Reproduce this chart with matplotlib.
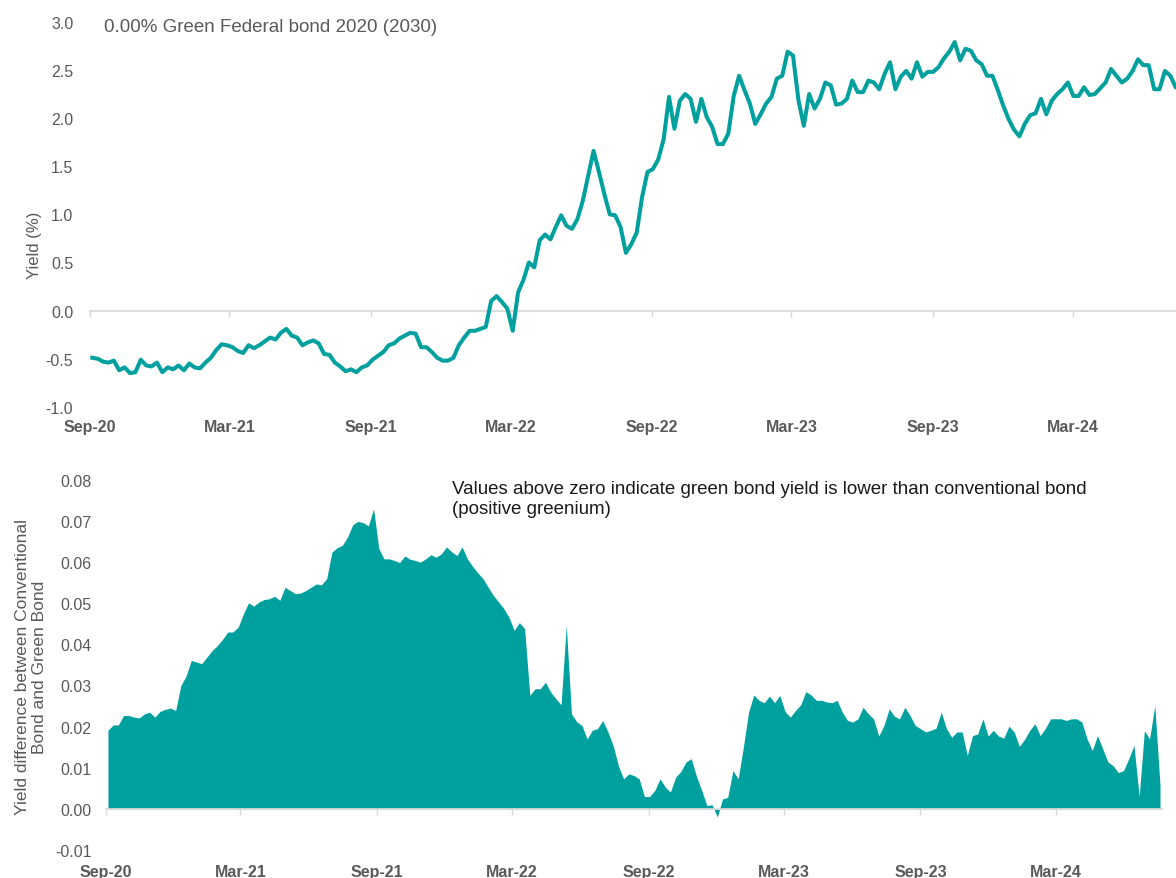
import matplotlib
matplotlib.use("Agg")
import matplotlib.pyplot as plt
import matplotlib.dates as mdates
import matplotlib.ticker as mticker
import numpy as np
import pandas as pd

plt.rcParams["font.family"] = ["Liberation Sans", "DejaVu Sans"]
plt.rcParams["axes.unicode_minus"] = False

TEAL = "#00A09F"
GREY = "#595959"
LIGHT = "#D9D9D9"

# weekly readings, first one on this date
first_week = "2020-09-04"
axis_start = "2020-09-01"
axis_end = "2024-07-22"

# yield of the green Bund, in %
green_yield = [
    -0.49, -0.50, -0.53, -0.54, -0.52, -0.62, -0.59, -0.65, -0.64, -0.51,
    -0.57, -0.58, -0.54, -0.64, -0.59, -0.61, -0.57, -0.62, -0.55, -0.59,
    -0.60, -0.54, -0.49, -0.41, -0.35, -0.36, -0.38, -0.42, -0.44, -0.36,
    -0.39, -0.36, -0.32, -0.28, -0.30, -0.23, -0.19, -0.26, -0.28, -0.36,
    -0.33, -0.31, -0.34, -0.45, -0.46, -0.54, -0.58, -0.63, -0.61, -0.64,
    -0.59,
    -0.57, -0.51, -0.47, -0.43, -0.36, -0.34, -0.29, -0.26, -0.23, -0.24,
    -0.38, -0.38, -0.43, -0.49, -0.52, -0.52, -0.49, -0.36, -0.28, -0.21,
    -0.21, -0.19, -0.17, 0.10, 0.15, 0.09, 0.02, -0.21, 0.19, 0.32,
    0.50, 0.45, 0.73, 0.79, 0.74, 0.87, 0.99, 0.88, 0.85, 0.95,
    1.14, 1.40, 1.66, 1.44, 1.21, 1.00, 0.99, 0.87, 0.60, 0.69,
    0.81,
    1.18, 1.44, 1.47, 1.57, 1.78, 2.22, 1.89, 2.18, 2.25, 2.20,
    1.96, 2.20, 2.01, 1.91, 1.73, 1.73, 1.84, 2.23, 2.44, 2.29,
    2.15, 1.94, 2.04, 2.15, 2.22, 2.41, 2.44, 2.69, 2.65, 2.19,
    1.92, 2.25, 2.10, 2.20, 2.37, 2.34, 2.14, 2.15, 2.20, 2.39,
    2.27, 2.27, 2.39, 2.37, 2.30, 2.46, 2.58, 2.30, 2.43, 2.49,
    2.41, 2.58, 2.43, 2.48, 2.48, 2.53, 2.62, 2.69, 2.79, 2.60,
    2.72, 2.70, 2.60, 2.56, 2.44, 2.44, 2.29, 2.13, 1.99, 1.88,
    1.81, 1.94, 2.03, 2.05, 2.20, 2.04, 2.18, 2.25, 2.30, 2.37,
    2.23, 2.23, 2.32, 2.24, 2.25, 2.31, 2.37, 2.51, 2.44, 2.37,
    2.41, 2.49, 2.61, 2.55, 2.55, 2.30, 2.30, 2.49, 2.44, 2.32,
    2.30,
]

# conventional minus green yield, in basis points
greenium_bp = [
    1.91, 2.04, 2.04, 2.27, 2.27, 2.23, 2.21, 2.31, 2.35, 2.23,
    2.37, 2.42, 2.45, 2.39, 3.00, 3.23, 3.61, 3.57, 3.53, 3.69,
    3.85, 3.97, 4.12, 4.30, 4.30, 4.42, 4.74, 5.01, 4.93, 5.03,
    5.09, 5.11, 5.17, 5.07, 5.39, 5.31, 5.23, 5.25, 5.31, 5.39,
    5.47, 5.45, 5.60, 6.24, 6.35, 6.41, 6.61, 6.91, 6.99, 6.96,
    6.88,
    7.30, 6.33, 6.08, 6.08, 6.04, 5.99, 6.15, 6.07, 6.04, 6.00,
    6.08, 6.18, 6.12, 6.20, 6.37, 6.25, 6.16, 6.37, 6.08, 5.90,
    5.74, 5.60, 5.39, 5.19, 5.03, 4.87, 4.66, 4.34, 4.53, 4.38,
    2.76, 2.92, 2.92, 3.08, 2.84, 2.68, 2.53, 4.46, 2.31, 2.12,
    2.03, 1.70, 1.91, 1.95, 2.15, 1.87, 1.54, 1.05, 0.73, 0.85,
    0.81,
    0.73, 0.30, 0.30, 0.45, 0.73, 0.53, 0.41, 0.77, 0.91, 1.14,
    1.22, 0.79, 0.45, 0.08, 0.10, -0.20, 0.24, 0.28, 0.93, 0.73,
    1.50, 2.35, 2.77, 2.64, 2.58, 2.74, 2.58, 2.76, 2.37, 2.23,
    2.39, 2.53, 2.85, 2.77, 2.64, 2.64, 2.60, 2.58, 2.64, 2.35,
    2.15, 2.11, 2.19, 2.47, 2.31, 2.19, 1.77, 2.03, 2.43, 2.25,
    2.19,
    2.47, 2.27, 2.03, 1.95, 1.87, 1.91, 1.96, 2.35, 1.95, 1.74,
    1.87, 1.87, 1.30, 1.78, 1.82, 2.19, 1.77, 1.91, 1.77, 1.72,
    2.01, 1.87, 1.52, 1.69, 1.91, 2.07, 1.78, 1.96, 2.19, 2.19,
    2.19, 2.15, 2.19, 2.19, 2.11, 1.70, 1.42, 1.78, 1.46, 1.14,
    1.05, 0.88, 0.93, 1.22, 1.54, 0.30, 1.90, 1.70, 2.51, 0.57,
]

yield_ticks = [-1.0, -0.5, 0.0, 0.5, 1.0, 1.5, 2.0, 2.5, 3.0]
greenium_ticks = [-0.01, 0.0, 0.01, 0.02, 0.03, 0.04, 0.05, 0.06, 0.07, 0.08]

title_text = "0.00% Green Federal bond 2020 (2030)"
note_text = ("Values above zero indicate green bond yield is lower than conventional bond\n"
             "(positive greenium)")

dates = pd.date_range(first_week, periods=len(green_yield), freq="7D")
greenium = np.array(greenium_bp) / 100


def style_axes(ax, yticks, fmt, ypad, xpad):
    for side in ("top", "right", "left"):
        ax.spines[side].set_visible(False)
    ax.spines["bottom"].set_position(("data", 0))
    ax.spines["bottom"].set_color(LIGHT)
    ax.spines["bottom"].set_linewidth(1.3)
    ax.set_xlim(pd.Timestamp(axis_start), pd.Timestamp(axis_end))
    ax.set_ylim(yticks[0], yticks[-1])
    ax.set_yticks(yticks)
    ax.yaxis.set_major_formatter(mticker.FormatStrFormatter(fmt))
    ax.tick_params(axis="y", length=0, labelsize=11.5, labelcolor=GREY, pad=ypad)
    ax.xaxis.set_major_locator(mdates.MonthLocator(bymonth=(3, 9)))

    # month labels go under the plot, tick marks stay on the zero line
    lab = ax.twiny()
    lab.set_xlim(ax.get_xlim())
    lab.xaxis.set_ticks_position("bottom")
    lab.xaxis.set_major_locator(mdates.MonthLocator(bymonth=(3, 9)))
    lab.xaxis.set_major_formatter(mdates.DateFormatter("%b-%y"))
    lab.tick_params(axis="x", length=0, labelsize=11.5, labelcolor=GREY, pad=xpad)
    for t in lab.get_xticklabels():
        t.set_fontweight("bold")
    for s in lab.spines.values():
        s.set_visible(False)

    ax.tick_params(axis="x", direction="out", length=4, width=1, color=LIGHT,
                   labelbottom=False)


fig = plt.figure(figsize=(11.76, 8.79), dpi=100)

top = fig.add_axes([0.0765, 0.536, 0.9298, 0.438])
top.plot(dates, green_yield, color=TEAL, linewidth=2.9, zorder=3)
style_axes(top, yield_ticks, "%.1f", ypad=12, xpad=8.5)

bottom = fig.add_axes([0.0899, 0.0319, 0.8984, 0.421])
bottom.fill_between(dates, greenium, 0, color=TEAL, linewidth=0, zorder=1)
style_axes(bottom, greenium_ticks, "%.2f", ypad=10, xpad=10)

fig.text(104 / 1176, 1 - 28 / 879, title_text, fontsize=13.5, color=GREY,
         ha="left", va="center")
fig.text(452 / 1176, 1 - 481 / 879, note_text, fontsize=13.5, color="#1A1A1A",
         ha="left", va="top", linespacing=1.2)
fig.text(35 / 1176, 1 - 245 / 879, "Yield (%)", rotation=90, fontsize=12,
         color=GREY, ha="center", va="center")
fig.text(31 / 1176, 1 - 667 / 879,
         "Yield difference between Conventional\nBond and Green Bond",
         rotation=90, fontsize=12.5, color=GREY, ha="center", va="center",
         multialignment="center")

fig.savefig("out.png", dpi=100)
